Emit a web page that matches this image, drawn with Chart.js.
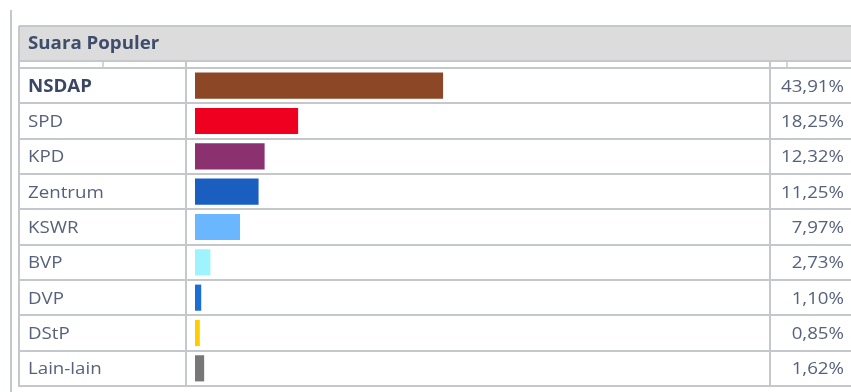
<!DOCTYPE html>
<html>
<head>
<meta charset="utf-8">
<script src="https://cdn.jsdelivr.net/npm/chart.js@4"></script>
<style>
  html, body { margin: 0; padding: 0; background: #fff; }
  #chart { display: block; }
</style>
</head>
<body>
<canvas id="chart" width="851" height="392"></canvas>
<script>
// Suara populer table-chart

const parties = ['NSDAP', 'SPD', 'KPD', 'Zentrum', 'KSWR', 'BVP', 'DVP', 'DStP', 'Lain-lain'];
const shares = [43.91, 18.25, 12.32, 11.25, 7.97, 2.73, 1.10, 0.85, 1.62];
const partyColors = ['#8b4726', '#ef0020', '#8b316f', '#1a5fbf', '#6ab7ff', '#9ef3ff', '#1b6ed6', '#ffcc00', '#777777'];
const title = 'Suara Populer';

const lineColor = '#c4c8cd';
const textColor = '#56617b';
const stretch = 1.1; // text in the picture is a bit wide

(() => {

  // draws stretched text so the glyph widths match
  const wideText = (ctx, text, x, y, align) => {
    ctx.save();
    ctx.translate(x, y);
    ctx.scale(stretch, 1);
    ctx.textAlign = align;
    ctx.fillText(text, 0, 0);
    ctx.restore();
  };

  const tablePlugin = {
    id: 'tablePlugin',
    beforeDraw(chart) {
      const { ctx, width, height } = chart;
      const yScale = chart.scales.y;
      const step = yScale.getPixelForValue(1) - yScale.getPixelForValue(0);
      const top = yScale.getPixelForValue(0) - step / 2;
      const bottom = yScale.getPixelForValue(parties.length - 1) + step / 2;

      ctx.save();
      ctx.fillStyle = '#fff';
      ctx.fillRect(0, 0, width, height);

      // header band
      ctx.fillStyle = '#dcdcdc';
      ctx.fillRect(19, 26, width - 19, 35);

      ctx.strokeStyle = lineColor;
      ctx.lineWidth = 2;
      const line = (x1, y1, x2, y2) => {
        ctx.beginPath();
        ctx.moveTo(x1, y1);
        ctx.lineTo(x2, y2);
        ctx.stroke();
      };

      // outer page rule
      line(11, 10, 11, height);

      // table borders
      line(19, 26, width, 26);
      line(19, 61, width, 61);
      line(19, 26, 19, bottom + 1);
      for (let i = 0; i <= parties.length; i++) {
        const y = Math.round(top + i * step);
        line(19, y, width, y);
      }

      // thin spacer row columns
      ctx.lineWidth = 1.5;
      line(103, 61, 103, top);
      line(787, 61, 787, top);
      ctx.lineWidth = 2;

      // column separators
      line(186, 61, 186, bottom);
      line(770, 61, 770, bottom);

      // header title
      ctx.fillStyle = '#3f4d6d';
      ctx.font = 'bold 17px "Open Sans"';
      ctx.textBaseline = 'alphabetic';
      wideText(ctx, title, 28, 49, 'left');
      ctx.restore();
    },
    afterDatasetsDraw(chart) {
      const { ctx } = chart;
      const yScale = chart.scales.y;
      ctx.save();
      ctx.textBaseline = 'middle';
      parties.forEach((name, i) => {
        const y = yScale.getPixelForValue(i) + 1;
        ctx.fillStyle = i === 0 ? '#3b4762' : textColor;
        ctx.font = (i === 0 ? 'bold ' : '') + '17px "Open Sans"';
        wideText(ctx, name, 28, y, 'left');

        ctx.fillStyle = textColor;
        ctx.font = '17px "Open Sans"';
        wideText(ctx, shares[i].toFixed(2).replace('.', ',') + '%', 844, y, 'right');
      });
      ctx.restore();
    }
  };

  // @ts-ignore
  new Chart(document.getElementById('chart'), {
    type: 'bar',
    data: {
      labels: parties,
      datasets: [{
        data: shares,
        backgroundColor: partyColors,
        borderWidth: 0,
        categoryPercentage: 1,
        barPercentage: 0.74
      }]
    },
    options: {
      indexAxis: 'y',
      responsive: false,
      animation: false,
      layout: {
        padding: { left: 195, right: 91, top: 68, bottom: 6 }
      },
      scales: {
        x: { display: false, min: 0, max: 100 },
        y: { display: false }
      },
      plugins: {
        legend: { display: false },
        tooltip: { enabled: false }
      }
    },
    plugins: [tablePlugin]
  });

})();
</script>
</body>
</html>
